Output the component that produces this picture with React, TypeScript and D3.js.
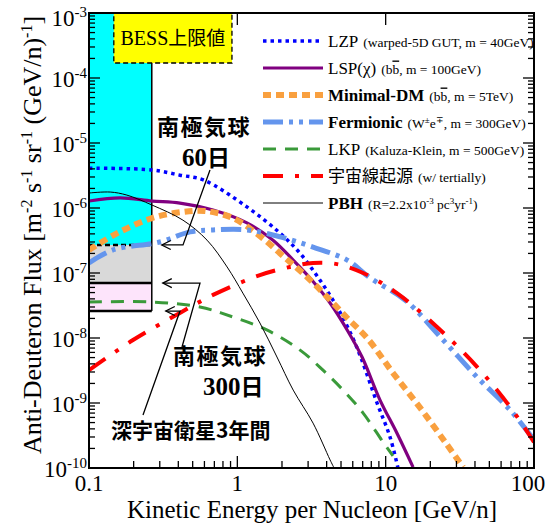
import * as d3 from 'd3'

// kinetic energy [GeV/n] vs anti-deuteron flux
const lzp = [[0.1, 4.1e-6], [0.266, 3.85e-6], [0.41, 3.2e-6], [0.59, 2.7e-6], [1.16, 1.04e-6], [1.94, 4.1e-7], [2.65, 2.0e-7], [3.6, 7.8e-8], [4.7, 3.0e-8], [6.0, 1.0e-8], [6.9, 4.6e-9], [8.75, 1.0e-9], [10.7, 3.0e-10], [12.1, 1.0e-10]]
const lsp = [[0.1, 1.28e-6], [0.162, 1.43e-6], [0.266, 1.28e-6], [0.41, 1.19e-6], [0.686, 9.3e-7], [1.16, 5.9e-7], [1.74, 3.2e-7], [2.38, 1.58e-7], [3.24, 7.4e-8], [4.22, 3.45e-8], [5.5, 1.33e-8], [6.93, 5.1e-9], [9.16, 1.11e-9], [11.9, 3.45e-10], [15.3, 1.03e-10]]
const minimalDM = [[0.1, 2.26e-7], [0.155, 4.1e-7], [0.266, 7.0e-7], [0.43, 8.7e-7], [0.605, 9.0e-7], [0.935, 7.0e-7], [1.42, 3.7e-7], [2.03, 1.83e-7], [2.95, 8.7e-8], [4.22, 3.85e-8], [5.5, 2.03e-8], [7.5, 1.0e-8], [11.2, 2.9e-9], [17.1, 8.4e-10], [25.2, 2.5e-10], [33.3, 1.03e-10]]
const fermionic = [[0.1, 1.43e-7], [0.145, 2.26e-7], [0.3, 3.0e-7], [0.48, 4.3e-7], [0.686, 4.6e-7], [1.16, 4.6e-7], [1.94, 3.6e-7], [3.24, 2.5e-7], [5.5, 1.58e-7], [7.85, 8.4e-8], [13.5, 3.85e-8], [24.4, 9.3e-9], [41.3, 2.5e-9], [69, 7.8e-10], [100, 2.7e-10]]
const lkp = [[0.1, 3.58e-8], [0.258, 3.58e-8], [0.56, 3.0e-8], [0.935, 2.1e-8], [1.58, 1.33e-8], [2.65, 6.5e-9], [3.78, 3.2e-9], [5.16, 1.58e-9], [7.05, 7.0e-10], [9.6, 2.5e-10], [11.2, 1.53e-10]]
const cosmic = [[0.1, 3.2e-9], [0.198, 9.3e-9], [0.41, 2.43e-8], [0.686, 4.6e-8], [1.42, 9.3e-8], [2.26, 1.24e-7], [3.24, 1.43e-7], [4.7, 1.37e-7], [7.05, 1.0e-7], [11.9, 4.9e-8], [22.2, 1.48e-8], [41.3, 3.6e-9], [69, 8.7e-10], [100, 2.5e-10]]
const pbh = [[0.1, 1.7e-6], [0.139, 1.76e-6], [0.18, 1.58e-6], [0.266, 1.11e-6], [0.43, 6.5e-7], [0.625, 3.2e-7], [0.853, 1.24e-7], [1.09, 4.9e-8], [1.42, 1.7e-8], [1.85, 5.1e-9], [2.38, 1.58e-9], [3.24, 4.9e-10], [4.22, 1.33e-10], [4.49, 1.0e-10]]

// sensitivity boxes
const gapsE = [0.1, 0.265]
const balloon60 = 2.7e-7
const balloon300 = 7.0e-8
const satellite3yr = 2.6e-8
const bessE = [0.147, 0.92]
const bessFlux = [1.7e-4, 1e-3]

const xTickLabels = ['0.1', '1', '10', '100']
const yExponents = [-3, -4, -5, -6, -7, -8, -9, -10]

const SERIF = 'Liberation Serif, Times New Roman, serif'
const CJK = 'Noto Sans CJK JP, sans-serif'
const W = 555, H = 525
const L = 89, R = 534, T = 13, B = 468

// segments: [text, kind] kind 0 = normal, 1 = superscript, 2 = overline
type Seg = [string, number]
const rich = (segs: Seg[], supSize: number, shift: number) => {
  let raised = false
  return segs.map(([s, k], i) => {
    let dy = 0
    if (k === 1 && !raised) { dy = -shift; raised = true }
    else if (k !== 1 && raised) { dy = shift; raised = false }
    return (
      <tspan key={i} dy={dy || undefined} fontSize={k === 1 ? supSize : undefined}
        textDecoration={k === 2 ? 'overline' : undefined}>{s}</tspan>
    )
  })
}

const series = [
  { data: lzp, color: '#0000ff', width: 3.5, dash: '3.5 4', label: 'LZP', bold: false, note: [['(warped-5D GUT, m = 40GeV)', 0]] as Seg[] },
  { data: lsp, color: '#800080', width: 3.2, dash: null, label: 'LSP(χ)', bold: false, note: [['(b', 0], ['b', 2], [',  m = 100GeV)', 0]] as Seg[] },
  { data: minimalDM, color: '#f9a03f', width: 6, dash: '8 5', label: 'Minimal-DM', bold: true, note: [['(b', 0], ['b', 2], [',  m = 5TeV)', 0]] as Seg[] },
  { data: fermionic, color: '#6495ed', width: 5, dash: '20 6 4 6 4 6', label: 'Fermionic', bold: true, note: [['(W', 0], ['±', 1], ['e', 0], ['∓', 1], [',  m = 300GeV)', 0]] as Seg[] },
  { data: lkp, color: '#3a9a3a', width: 3, dash: '13 9', label: 'LKP', bold: false, note: [['(Kaluza-Klein, m = 500GeV)', 0]] as Seg[] },
  { data: cosmic, color: '#ff0000', width: 4, dash: '20 12 4 12', label: '宇宙線起源', bold: false, cjk: true, note: [['(w/ tertially)', 0]] as Seg[] },
  { data: pbh, color: '#000000', width: 1, dash: null, label: 'PBH', bold: true, note: [['(R=2.2x10', 0], ['-3', 1], [' pc', 0], ['3', 1], ['yr', 0], ['-1', 1], [')', 0]] as Seg[] },
]

export default function App() {
  const x = d3.scaleLog().domain([0.1, 100]).range([L, R])
  const y = d3.scaleLog().domain([1e-10, 1e-3]).range([B, T])
  const line = d3.line<number[]>()
    .x(d => x(d[0]))
    .y(d => y(d[1]))
    .curve(d3.curveCatmullRom.alpha(0.5))

  const isMajor = (t: number) => Math.abs(Math.log10(t) - Math.round(Math.log10(t))) < 1e-6
  const xTicks = x.ticks()
  const yTicks = y.ticks()

  const gx0 = x(gapsE[0]), gx1 = x(gapsE[1])

  const arrow = (pts: number[][]) => {
    const [tx, ty] = pts[pts.length - 1]
    return (
      <g fill="none" stroke="#000" strokeWidth={1.3}>
        <polyline points={pts.map(p => p.join(',')).join(' ')} />
        <polyline points={`${tx + 9},${ty - 4.5} ${tx},${ty} ${tx + 9},${ty + 4.5}`} />
      </g>
    )
  }

  return (
    <svg width={W} height={H} style={{ position: 'absolute', left: 0, top: 0, background: '#fff', fontFamily: SERIF }}>
      <defs>
        <clipPath id="plot"><rect x={L} y={T} width={R - L} height={B - T} /></clipPath>
      </defs>

      {/* detector boxes */}
      <rect x={gx0} y={y(1e-3)} width={gx1 - gx0} height={y(balloon60) - y(1e-3)} fill="#00ffff" />
      <rect x={gx0} y={y(balloon60)} width={gx1 - gx0} height={y(balloon300) - y(balloon60)} fill="#d9d9d9" />
      <rect x={gx0} y={y(balloon300)} width={gx1 - gx0} height={y(satellite3yr) - y(balloon300)} fill="#fde4fb" />
      <line x1={gx1} x2={gx1} y1={y(1e-3)} y2={y(satellite3yr)} stroke="#000" strokeWidth={1.5} />
      <line x1={gx0} x2={gx1} y1={y(balloon60)} y2={y(balloon60)} stroke="#000" strokeWidth={2.5} strokeDasharray="5 3" />
      <line x1={gx0} x2={gx1} y1={y(balloon300)} y2={y(balloon300)} stroke="#000" strokeWidth={2.5} />
      <line x1={gx0} x2={gx1} y1={y(satellite3yr)} y2={y(satellite3yr)} stroke="#000" strokeWidth={2.5} />

      {/* BESS upper limit */}
      <rect x={x(bessE[0])} y={y(bessFlux[1])} width={x(bessE[1]) - x(bessE[0])} height={y(bessFlux[0]) - y(bessFlux[1])}
        fill="#ffff00" stroke="#000" strokeWidth={1.3} strokeDasharray="5 3" />
      <text x={(x(bessE[0]) + x(bessE[1])) / 2} y={(y(bessFlux[0]) + y(bessFlux[1])) / 2 + 7} textAnchor="middle" fontSize={20}>
        BESS<tspan fontFamily={CJK} fontSize={19}>上限値</tspan>
      </text>

      {/* curves */}
      <g clipPath="url(#plot)" fill="none">
        {series.map(s => (
          <path key={s.label} d={line(s.data) ?? ''} stroke={s.color} strokeWidth={s.width}
            strokeDasharray={s.dash ?? undefined} />
        ))}
      </g>

      {/* frame and ticks */}
      <rect x={L} y={T} width={R - L} height={B - T} fill="none" stroke="#000" strokeWidth={2} />
      <g stroke="#000" strokeWidth={1.3}>
        {xTicks.map((t, i) => {
          const len = isMajor(t) ? 12 : 7
          return <line key={'xb' + i} x1={x(t)} x2={x(t)} y1={B} y2={B - len} />
        })}
        {xTicks.filter(isMajor).map((t, i) => (
          <line key={'xt' + i} x1={x(t)} x2={x(t)} y1={T} y2={T + 12} />
        ))}
        {yTicks.map((t, i) => {
          const len = isMajor(t) ? 11 : 6
          return (
            <g key={'y' + i}>
              <line x1={L} x2={L + len} y1={y(t)} y2={y(t)} />
              <line x1={R} x2={R - len} y1={y(t)} y2={y(t)} />
            </g>
          )
        })}
      </g>

      {/* tick labels */}
      {yExponents.map(e => (
        <text key={e} x={87} y={y(Math.pow(10, e)) + (e === -3 ? 13 : 9)} textAnchor="end" fontSize={23}>
          10<tspan dy={-9} fontSize={15}>{String(e)}</tspan>
        </text>
      ))}
      {xTickLabels.map(s => (
        <text key={s} x={s === '100' ? x(+s) - 6 : x(+s)} y={491} textAnchor="middle" fontSize={23}>{s}</text>
      ))}

      {/* axis titles */}
      <text x={312} y={518} textAnchor="middle" fontSize={25}>Kinetic Energy per Nucleon [GeV/n]</text>
      <text transform="translate(41,235) rotate(-90)" textAnchor="middle" fontSize={26}>
        {rich([['Anti-Deuteron Flux [m', 0], ['-2', 1], [' s', 0], ['-1', 1], [' sr', 0], ['-1', 1], [' (GeV/n)', 0], ['-1', 1], [']', 0]], 16, 9)}
      </text>

      {/* legend */}
      {series.map((s, i) => {
        const cy = 41 + i * 27
        return (
          <g key={'lg' + i}>
            <line x1={263} x2={323} y1={cy} y2={cy} stroke={s.color} strokeWidth={s.width}
              strokeDasharray={s.dash ?? undefined} />
            <text x={328} y={cy + 5.5} fontSize={17}>
              <tspan fontWeight={s.bold ? 'bold' : 'normal'} fontFamily={s.cjk ? CJK : SERIF}>{s.label}</tspan>
              <tspan dx={5} fontSize={13.5}>{rich(s.note, 9, 5)}</tspan>
            </text>
          </g>
        )
      })}

      {/* annotations */}
      <g fontWeight="bold" fontFamily={CJK}>
        <text x={157} y={135} fontSize={22} letterSpacing={1.5}>南極気球</text>
        <text x={182} y={166} fontSize={23}><tspan fontFamily={SERIF} fontSize={25}>60</tspan>日</text>
        <text x={173} y={364} fontSize={22} letterSpacing={1.5}>南極気球</text>
        <text x={203} y={395} fontSize={23}><tspan fontFamily={SERIF} fontSize={25}>300</tspan>日</text>
        <text x={111} y={438} fontSize={21}>深宇宙衛星3年間</text>
      </g>
      {arrow([[210, 170], [183, y(balloon60)], [gx1 + 10, y(balloon60)]])}
      {arrow([[182, 347], [200, y(balloon300)], [gx1 + 11, y(balloon300)]])}
      {arrow([[143, 415], [180, y(satellite3yr)], [gx1 + 14, y(satellite3yr)]])}
    </svg>
  )
}
